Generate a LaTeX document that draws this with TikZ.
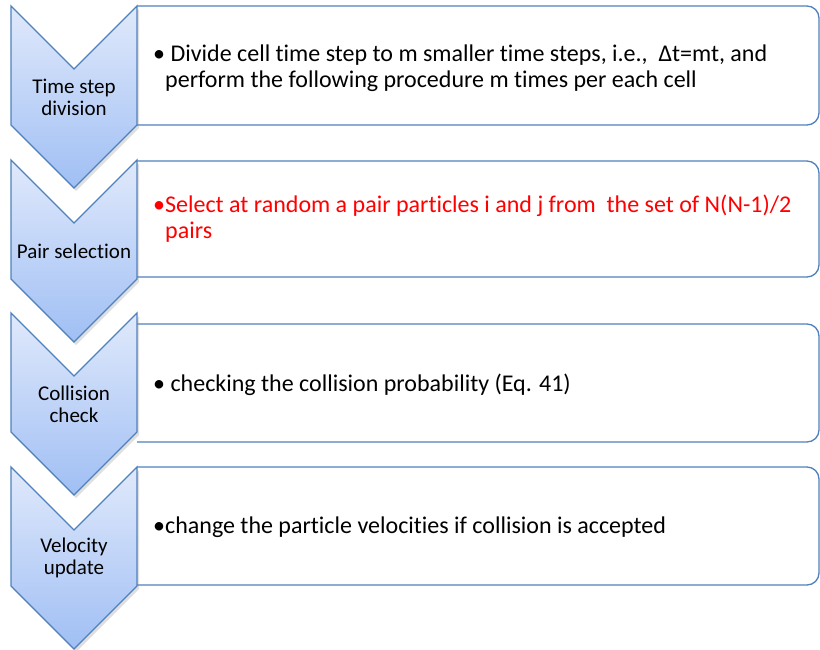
\documentclass[tikz,border=0pt]{standalone}
\usepackage{fontspec}
\setmainfont{Carlito}[Ligatures=NoCommon]
\usetikzlibrary{shadows, positioning}
\definecolor{cedge}{HTML}{4F81BD}
\definecolor{ctop}{HTML}{E0E9FB}
\definecolor{cbottom}{HTML}{A0BFF4}
\definecolor{cred}{HTML}{FF0000}
\tikzset{
  every picture/.style={x=1pt, y=-1pt},
  chevron/.style={draw=cedge, line width=1.3pt, line join=miter, top color=ctop, bottom color=cbottom,
    drop shadow={shadow xshift=2pt, shadow yshift=-3pt, opacity=0.25}},
  steplabel/.style={inner sep=0pt, align=center, font=\fontsize{21}{22}\selectfont},
  panel/.style={draw=cedge, line width=1.3pt, fill=white, rounded corners=12pt},
  bullet/.style={anchor=base west, inner sep=0pt, align=left, font=\fontsize{24}{26}\selectfont},
}

\begin{document}
\begin{tikzpicture}
  \useasboundingbox (0,0) rectangle (820,650);
  % text panels
  \draw[panel] (137,6) -- (819,6) -- (819,125) -- (137,125);
  \draw[panel] (137,161) -- (819,161) -- (819,277) -- (137,277);
  \draw[panel] (137,324) -- (819,324) -- (819,442) -- (137,442);
  \draw[panel] (137,467) -- (819,467) -- (819,585) -- (137,585);
  % chevrons
  \draw[chevron] (11,6) -- (74,69) -- (137,6) -- (137,125) -- (74,188) -- (11,125) -- cycle;
  \draw[chevron] (11,160) -- (74,223) -- (137,160) -- (137,279) -- (74,342) -- (11,279) -- cycle;
  \draw[chevron] (11,313) -- (74,376) -- (137,313) -- (137,432) -- (74,495) -- (11,432) -- cycle;
  \draw[chevron] (11,467) -- (74,530) -- (137,467) -- (137,586) -- (74,649) -- (11,586) -- cycle;
  \node[steplabel] (division) at (74,97) {Time step\\division};
  \node[steplabel] (selection) at (74,251) {Pair selection};
  \node[steplabel] (check) at (74,404) {Collision\\check};
  \node[steplabel] (update) at (74,558) {Velocity\\update};
  % panel texts
  \node[bullet] (divtext) at (153,88) {\textbullet\ Divide cell time step to m smaller time steps, i.e.,\ \ Δt=mt, and\\\hspace*{12pt}perform the following procedure m times per each cell};
  \node[bullet, text=cred] (seltext) at (153,239) {\textbullet{}Select at random a pair particles i and j from\ \ the set of N(N-1)/2\\\hspace*{12pt}pairs};
  \node[bullet] (checktext) at (153,391) {\textbullet\ checking the collision probability (Eq. 41)};
  \node[bullet] (updtext) at (153,533) {\textbullet{}change the particle velocities if collision is accepted};
\end{tikzpicture}
\end{document}
